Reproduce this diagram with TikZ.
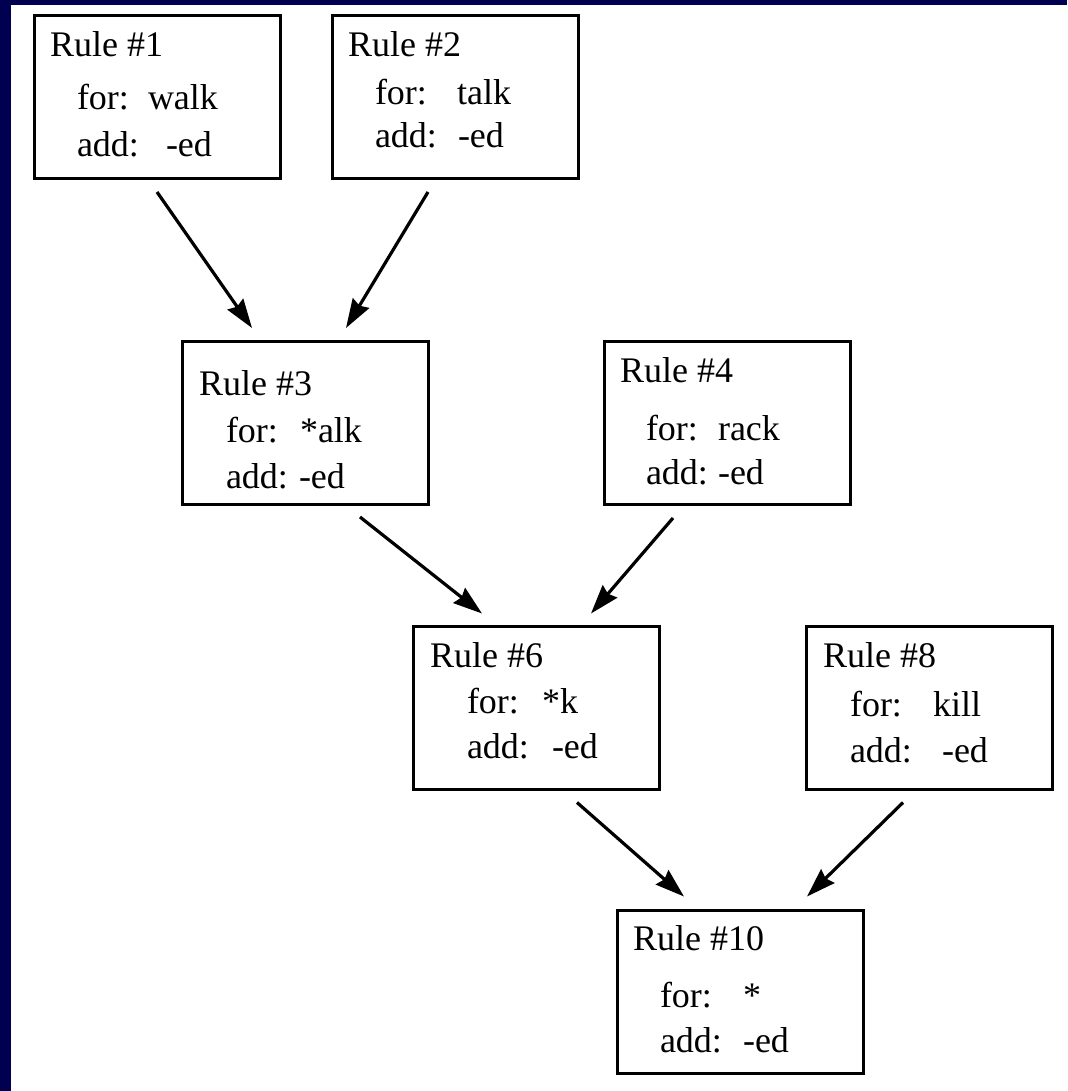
\documentclass[tikz,border=0pt]{standalone}
\usepackage{fontspec}
\setmainfont{Liberation Serif}
\usetikzlibrary{arrows.meta}
\definecolor{navy}{RGB}{0,0,80}
\begin{document}
\begin{tikzpicture}[x=1pt,y=-1pt,
  rulebox/.style={draw, line width=3pt, minimum width=246pt, minimum height=163pt, inner sep=0pt, outer sep=0pt},
  txt/.style={anchor=base west, inner sep=0pt, outer sep=0pt, font=\fontsize{36}{43}\selectfont},
  arr/.style={line width=3.2pt, -{Stealth[length=29pt,width=19pt,inset=3pt]}}]
\useasboundingbox (0,0) rectangle (1067,1091);
\fill[navy] (0,0) rectangle (1067,5);
\fill[navy] (0,0) rectangle (11,1091);

% boxes
\node[rulebox] (r1)  at (157,97.5) {};
\node[rulebox] (r2)  at (455,97.5) {};
\node[rulebox] (r3)  at (305,422.5) {};
\node[rulebox] (r4)  at (727,422.5) {};
\node[rulebox] (r6)  at (536,708) {};
\node[rulebox] (r8)  at (929,708) {};
\node[rulebox] (r10) at (740,992) {};

% texts
\node[txt] (t1a) at (50,57) {Rule \#1};
\node[txt] (t1b) at (77,110) {for:};
\node[txt] (t1c) at (148,110) {walk};
\node[txt] (t1d) at (77,157) {add:};
\node[txt] (t1e) at (166,157) {-ed};

\node[txt] (t2a) at (348,57) {Rule \#2};
\node[txt] (t2b) at (375,105) {for:};
\node[txt] (t2c) at (457,105) {talk};
\node[txt] (t2d) at (375,148) {add:};
\node[txt] (t2e) at (458,148) {-ed};

\node[txt] (t3a) at (199,395) {Rule \#3};
\node[txt] (t3b) at (226,442) {for:};
\node[txt] (t3c) at (300,442) {*alk};
\node[txt] (t3d) at (226,488) {add:};
\node[txt] (t3e) at (299,488) {-ed};

\node[txt] (t4a) at (620,382) {Rule \#4};
\node[txt] (t4b) at (646,440) {for:};
\node[txt] (t4c) at (718,440) {rack};
\node[txt] (t4d) at (646,484) {add:};
\node[txt] (t4e) at (718,484) {-ed};

\node[txt] (t6a) at (430,667) {Rule \#6};
\node[txt] (t6b) at (467,713) {for:};
\node[txt] (t6c) at (542,713) {*k};
\node[txt] (t6d) at (467,758) {add:};
\node[txt] (t6e) at (552,758) {-ed};

\node[txt] (t8a) at (823,667) {Rule \#8};
\node[txt] (t8b) at (850,716) {for:};
\node[txt] (t8c) at (933,716) {kill};
\node[txt] (t8d) at (850,762) {add:};
\node[txt] (t8e) at (942,762) {-ed};

\node[txt] (t10a) at (633,950) {Rule \#10};
\node[txt] (t10b) at (660,1007) {for:};
\node[txt] (t10c) at (743,1007) {*};
\node[txt] (t10d) at (660,1052) {add:};
\node[txt] (t10e) at (743,1052) {-ed};

% arrows
\draw[arr] ([shift={(0,13)}]r1.south) -- ([shift={(70,-13)}]r3.north west);
\draw[arr] ([shift={(96,13)}]r2.south west) -- ([shift={(164,-13)}]r3.north west);
\draw[arr] ([shift={(178,13)}]r3.south west) -- ([shift={(69,-13)}]r6.north west);
\draw[arr] ([shift={(69,14)}]r4.south west) -- ([shift={(178,-13)}]r6.north west);
\draw[arr] ([shift={(164,13)}]r6.south west) -- ([shift={(67,-14)}]r10.north west);
\draw[arr] ([shift={(97,13)}]r8.south west) -- ([shift={(190,-14)}]r10.north west);
\end{tikzpicture}
\end{document}
